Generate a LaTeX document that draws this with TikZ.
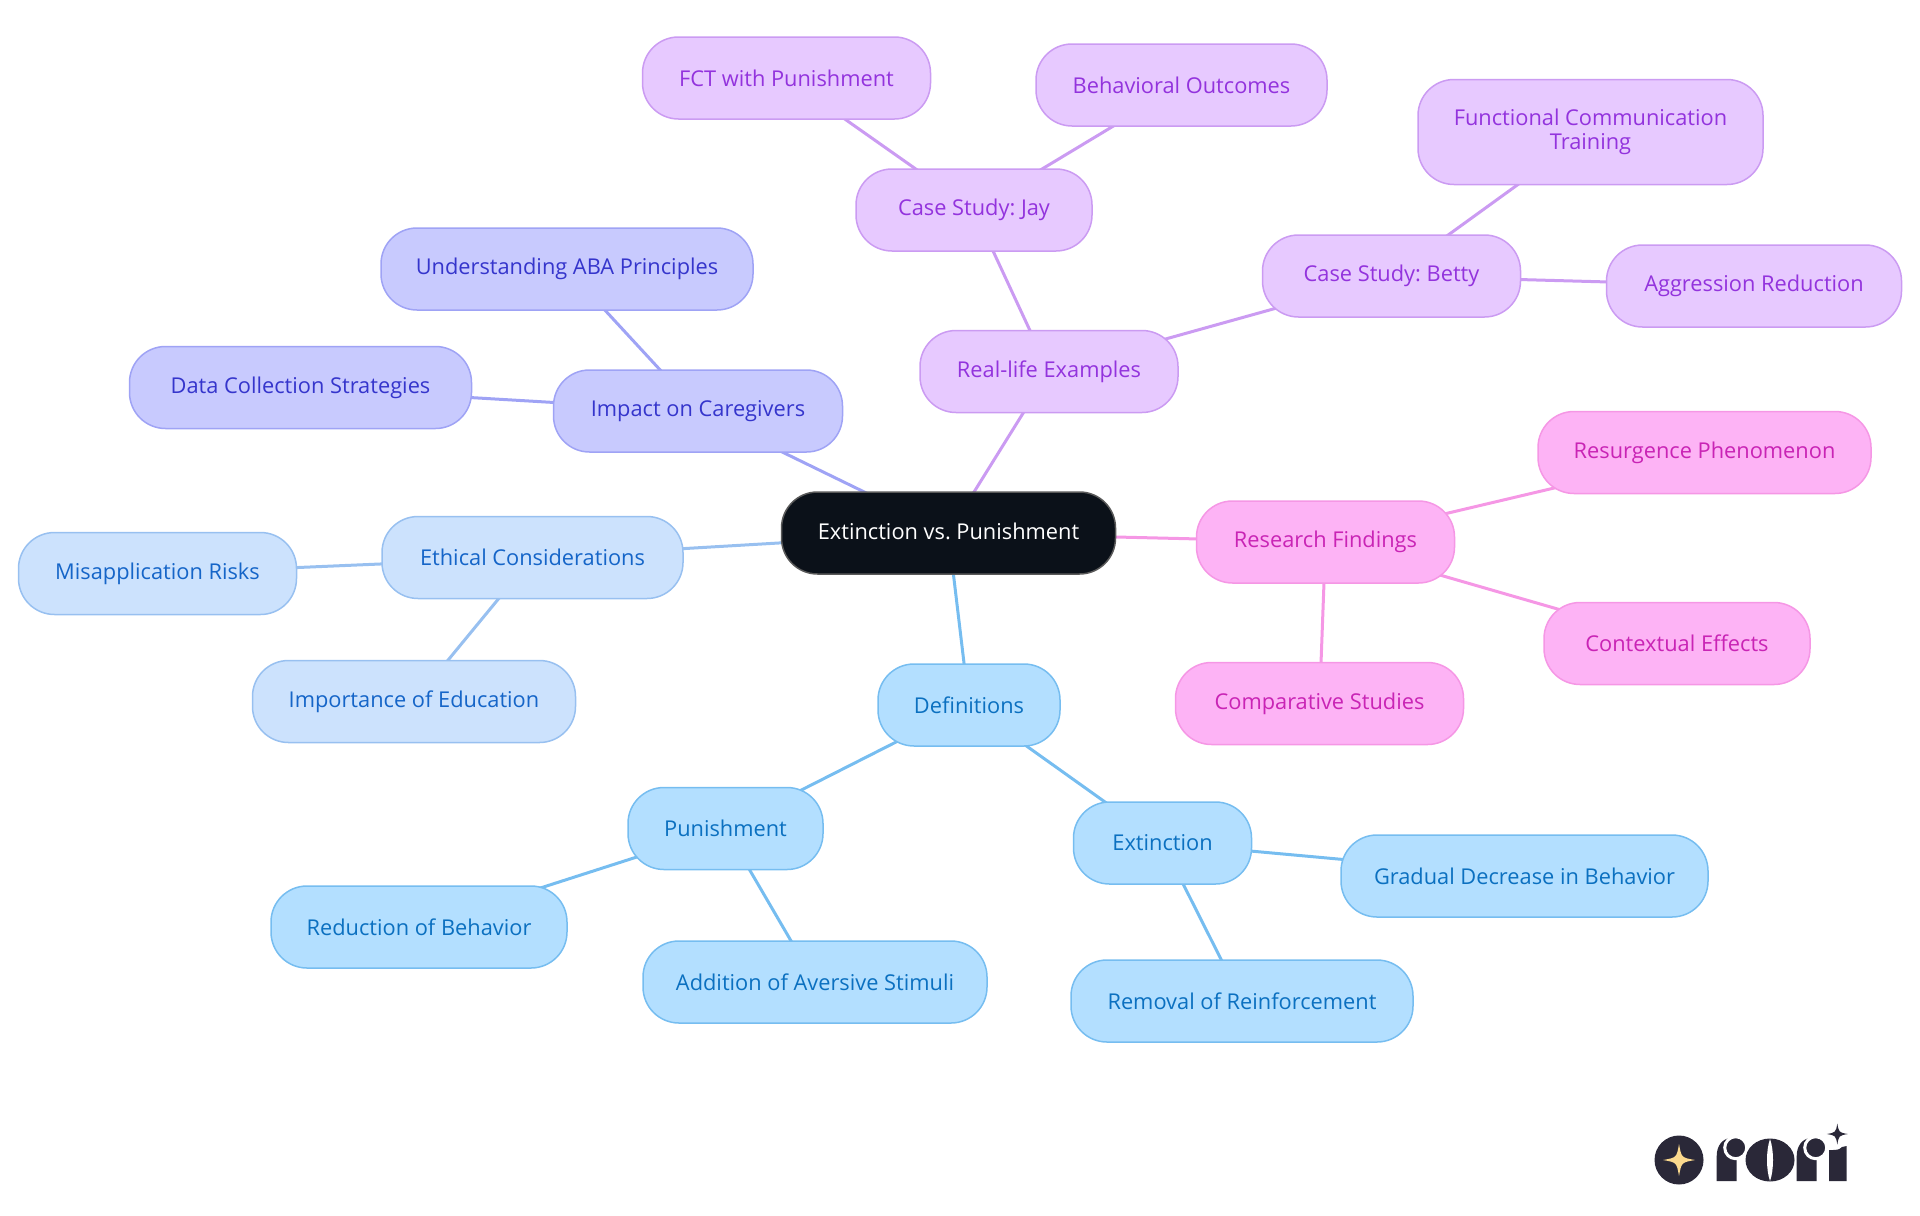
\documentclass[tikz,border=0pt]{standalone}
\usepackage{fontspec}
\setmainfont{Open Sans}
\usetikzlibrary{positioning, backgrounds}
\definecolor{rootfill}{HTML}{0B1119}
\definecolor{deffill}{HTML}{B3DFFF}
\definecolor{defline}{HTML}{76BDF0}
\definecolor{deftext}{HTML}{0B70C0}
\definecolor{ethfill}{HTML}{CCE2FD}
\definecolor{ethline}{HTML}{98C0F0}
\definecolor{ethtext}{HTML}{1565C8}
\definecolor{impfill}{HTML}{C8CAFE}
\definecolor{impline}{HTML}{9FA3F5}
\definecolor{imptext}{HTML}{3535CC}
\definecolor{realfill}{HTML}{E7C9FF}
\definecolor{realline}{HTML}{CB9BF2}
\definecolor{realtext}{HTML}{9333DD}
\definecolor{resfill}{HTML}{FDB3F5}
\definecolor{resline}{HTML}{F597E5}
\definecolor{restext}{HTML}{C924B5}
\definecolor{logodark}{HTML}{2A2838}
\definecolor{logogold}{HTML}{FBD98D}
\newcommand{\logostar}[4]{\fill[#4] (#1,#2-#3) .. controls (#1+0.15*#3,#2-0.15*#3) .. (#1+#3,#2) .. controls (#1+0.15*#3,#2+0.15*#3) .. (#1,#2+#3) .. controls (#1-0.15*#3,#2+0.15*#3) .. (#1-#3,#2) .. controls (#1-0.15*#3,#2-0.15*#3) .. cycle;}

\begin{document}
\begin{tikzpicture}[
		x=0.5pt, y=-0.5pt,
		mapbox/.style={rectangle, rounded corners=18pt, line width=0.75pt, minimum height=41pt, inner sep=0pt, align=center, font=\fontsize{10.9}{12.2}\selectfont\frenchspacing},
		rootbox/.style={mapbox, draw=black!65, fill=rootfill, text=white, text depth=2pt},
		defbox/.style={mapbox, draw=defline, fill=deffill, text=deftext},
		ethbox/.style={mapbox, draw=ethline, fill=ethfill, text=ethtext},
		impbox/.style={mapbox, draw=impline, fill=impfill, text=imptext},
		realbox/.style={mapbox, draw=realline, fill=realfill, text=realtext},
		resbox/.style={mapbox, draw=resline, fill=resfill, text=restext},
		link/.style={line width=1.5pt}
		]
		
		\useasboundingbox (0,0) rectangle (1920,1215);
		
		\node[rootbox, minimum width=167pt] (root) at (948.5,533) {Extinction vs. Punishment};
		
		% definitions
		\node[defbox, minimum width=91pt] (definitions) at (969,705) {Definitions};
		\node[defbox, minimum width=97.5pt] (punishment) at (725.5,828.5) {Punishment};
		\node[defbox, minimum width=89pt] (extinction) at (1162.5,843) {Extinction};
		\node[defbox, minimum width=148pt] (reduction) at (419,927) {Reduction of Behavior};
		\node[defbox, minimum width=172pt] (addition) at (815,982) {Addition of Aversive Stimuli};
		\node[defbox, minimum width=183.5pt] (gradual) at (1524.5,876) {Gradual Decrease in Behavior};
		\node[defbox, minimum width=171pt] (removal) at (1242,1001) {Removal of Reinforcement};
		
		% ethics
		\node[ethbox, minimum width=150.5pt] (ethical) at (532.5,557.5) {Ethical Considerations};
		\node[ethbox, minimum width=139pt] (misuse) at (157.5,573.5) {Misapplication Risks};
		\node[ethbox, minimum width=161.5pt] (education) at (414,701.5) {Importance of Education};
		
		% caregivers
		\node[impbox, minimum width=144.5pt] (impact) at (698,411) {Impact on Caregivers};
		\node[impbox, minimum width=186pt] (aba) at (567,269) {Understanding ABA Principles};
		\node[impbox, minimum width=171pt] (data) at (300.5,387.5) {Data Collection Strategies};
		
		% examples
		\node[realbox, minimum width=129pt] (examples) at (1049,371.5) {Real-life Examples};
		\node[realbox, minimum width=118pt] (jay) at (974,210) {Case Study: Jay};
		\node[realbox, minimum width=144pt] (fct) at (786.5,78) {FCT with Punishment};
		\node[realbox, minimum width=145.5pt] (outcomes) at (1181.5,85) {Behavioral Outcomes};
		\node[realbox, minimum width=129pt] (betty) at (1391.5,276) {Case Study: Betty};
		\node[realbox, minimum width=172.5pt, minimum height=52.5pt] (functional) at (1590.5,132) {Functional Communication\\Training};
		\node[realbox, minimum width=147.5pt] (aggression) at (1754,286) {Aggression Reduction};
		
		% research
		\node[resbox, minimum width=129pt] (research) at (1325.5,542) {Research Findings};
		\node[resbox, minimum width=166.5pt] (resurgence) at (1704.5,452.5) {Resurgence Phenomenon};
		\node[resbox, minimum width=133pt] (contextual) at (1677,643.5) {Contextual Effects};
		\node[resbox, minimum width=144pt] (comparative) at (1319.5,703.5) {Comparative Studies};
		
		\begin{scope}[on background layer]
			\draw[link, defline] (root.center) -- (definitions.center);
			\draw[link, defline] (definitions.center) -- (punishment.center);
			\draw[link, defline] (definitions.center) -- (extinction.center);
			\draw[link, defline] (punishment.center) -- (reduction.center);
			\draw[link, defline] (punishment.center) -- (addition.center);
			\draw[link, defline] (extinction.center) -- (gradual.center);
			\draw[link, defline] (extinction.center) -- (removal.center);
			\draw[link, ethline] (root.center) -- (ethical.center);
			\draw[link, ethline] (ethical.center) -- (misuse.center);
			\draw[link, ethline] (ethical.center) -- (education.center);
			\draw[link, impline] (root.center) -- (impact.center);
			\draw[link, impline] (impact.center) -- (aba.center);
			\draw[link, impline] (impact.center) -- (data.center);
			\draw[link, realline] (root.center) -- (examples.center);
			\draw[link, realline] (examples.center) -- (jay.center);
			\draw[link, realline] (jay.center) -- (fct.center);
			\draw[link, realline] (jay.center) -- (outcomes.center);
			\draw[link, realline] (examples.center) -- (betty.center);
			\draw[link, realline] (betty.center) -- (functional.center);
			\draw[link, realline] (betty.center) -- (aggression.center);
			\draw[link, resline] (root.center) -- (research.center);
			\draw[link, resline] (research.center) -- (resurgence.center);
			\draw[link, resline] (research.center) -- (contextual.center);
			\draw[link, resline] (research.center) -- (comparative.center);
		\end{scope}
		
		% logo
		\fill[logodark] (1679,1160) circle [radius=24.5];
		\logostar{1679}{1160}{16}{logogold}
		\fill[logodark] (1716.7,1181) -- (1716.7,1156) .. controls (1716.7,1146) and (1722,1139) .. (1730,1138) -- (1736.7,1150) -- (1736.7,1181) -- cycle;
		\filldraw[logodark, draw=white, line width=1.5pt] (1735.7,1147.7) circle [radius=11];
		\fill[logodark] (1770,1160) ellipse [x radius=24.5, y radius=21.5];
		\fill[white] (1770,1139) .. controls (1766,1150) and (1766,1170) .. (1770,1181) .. controls (1774,1170) and (1774,1150) .. (1770,1139) -- cycle;
		\fill[logodark] (1796.7,1181) -- (1796.7,1156) .. controls (1796.7,1146) and (1802,1139) .. (1810,1138) -- (1816.7,1150) -- (1816.7,1181) -- cycle;
		\filldraw[logodark, draw=white, line width=1.5pt] (1815.7,1147.7) circle [radius=11];
		\fill[logodark] (1829,1181) -- (1829,1150) -- (1833,1150) .. controls (1836,1150) and (1839,1150) .. (1842,1147) -- (1846.7,1146) -- (1846.7,1181) -- cycle;
		\logostar{1837.3}{1134}{10.5}{logodark}
		
	\end{tikzpicture}
\end{document}
